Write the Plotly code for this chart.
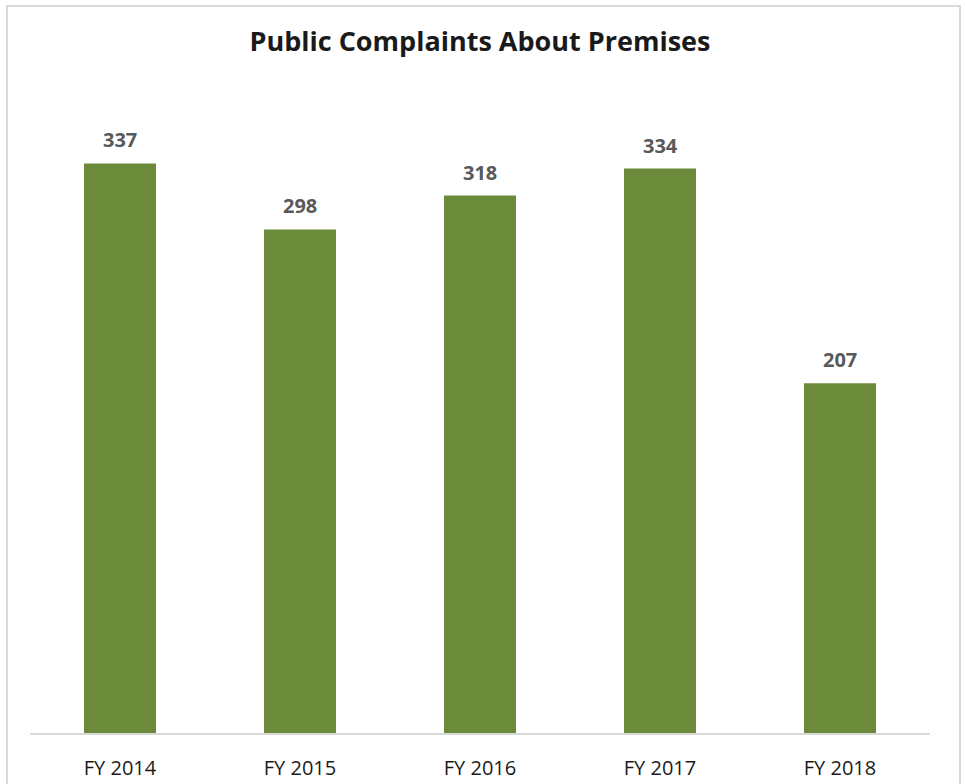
import plotly.graph_objects as go

# Complaint counts by fiscal year
years = ["FY 2014", "FY 2015", "FY 2016", "FY 2017", "FY 2018"]
complaints = [337, 298, 318, 334, 207]

BAR_COLOR = "#6B8B3A"
LABEL_COLOR = "#595959"
FONT = "Open Sans"

fig = go.Figure(
    go.Bar(
        x=years,
        y=complaints,
        marker=dict(color=BAR_COLOR, line=dict(width=0)),
        hoverinfo="x+y",
    )
)

# Value labels above each bar
for yr, val in zip(years, complaints):
    fig.add_annotation(
        x=yr, y=val, text=f"<b>{val}</b>", showarrow=False,
        yanchor="bottom", yshift=8,
        font=dict(family=FONT, size=20, color=LABEL_COLOR),
    )

W, H = 965, 784
ml, mr, mt, mb = 30, 35, 57, 51
pw, ph = W - ml - mr, H - mt - mb

def px_x(p):
    return (p - ml) / pw

def px_y(p):
    return (H - mb - p) / ph

# Light frame around the chart area
fig.add_shape(
    type="rect", xref="paper", yref="paper",
    x0=px_x(7), x1=px_x(960), y0=px_y(800), y1=px_y(6),
    line=dict(color="#D9D9D9", width=2), fillcolor="rgba(0,0,0,0)",
    layer="below",
)

fig.update_layout(
    width=W, height=H,
    margin=dict(l=ml, r=mr, t=mt, b=mb, autoexpand=False),
    paper_bgcolor="white", plot_bgcolor="white",
    bargap=0.6,
    showlegend=False,
    title=dict(
        text="<b>Public Complaints About Premises</b>",
        x=0.5, xref="paper", xanchor="center",
        y=1 - 42 / H, yanchor="middle",
        font=dict(family=FONT, size=27, color="#1a1a1a"),
    ),
    font=dict(family=FONT),
)

fig.update_xaxes(
    showline=True, linecolor="#D9D9D9", linewidth=2,
    ticks="", showgrid=False, automargin=False,
    tickfont=dict(family=FONT, size=20, color="#1a1a1a"),
    ticklabelstandoff=16,
)
fig.update_yaxes(visible=False, range=[0, 400], showgrid=False, automargin=False)

fig.write_html("out.html")
